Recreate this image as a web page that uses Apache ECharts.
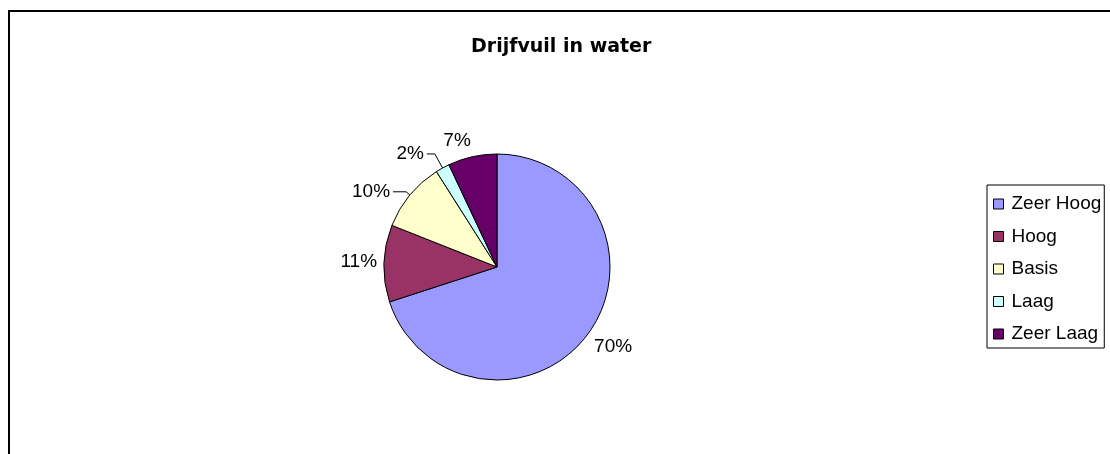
<!DOCTYPE html>
<html>
<head>
<meta charset="utf-8">
<script src="https://cdn.jsdelivr.net/npm/echarts@6/dist/echarts.min.js"></script>
<style>
  html, body { margin: 0; padding: 0; background: #fff; }
  #chart { width: 1110px; height: 454px; }
</style>
</head>
<body>
<div id="chart"></div>
<script>
var categories = ['Zeer Hoog', 'Hoog', 'Basis', 'Laag', 'Zeer Laag'];
var values = [70, 11, 10, 2, 7];

var colors = ['#9999ff', '#993366', '#ffffcc', '#ccffff', '#660066'];
// kleine stukken krijgen een verbindingslijntje, zoals in Excel
var withLine = [false, false, true, true, false];
var lineLen = [0, 0, 5, 16, 0];
var lineLen2 = [0, 0, 13, 8, 0];

var cx = 497, cy = 267, radius = 113;
var fontName = 'Liberation Sans, Arial, sans-serif';

function pieData() {
  var data = [];
  for (var i = 0; i < values.length; i++) {
    data.push({
      name: categories[i],
      value: values[i],
      itemStyle: { color: colors[i] },
      labelLine: { show: withLine[i], length: lineLen[i], length2: lineLen2[i] }
    });
  }
  return data;
}

function clamp(v) {
  return Math.max(-1, Math.min(1, v));
}

// labels zonder lijntje: dichtstbijzijnde hoek van het label op de middellijn van het stuk
function outsideLabel(params) {
  var i = params.dataIndex;
  if (withLine[i]) return;
  var total = 0, before = 0;
  for (var k = 0; k < values.length; k++) {
    total += values[k];
    if (k < i) before += values[k];
  }
  var a = (before + values[i] / 2) / total * Math.PI * 2;
  var dx = Math.sin(a), dy = -Math.cos(a);
  var hw = params.labelRect.width / 2, hh = params.labelRect.height / 2;
  var d = radius + 7;
  return {
    x: cx + d * dx + hw * clamp(dx / 0.2),
    y: cy + d * dy + hh * clamp(dy / 0.2),
    align: 'center',
    verticalAlign: 'middle'
  };
}

var chart = echarts.init(document.getElementById('chart'));
chart.setOption({
  animation: false,
  backgroundColor: '#fff',
  title: {
    text: 'Drijfvuil in water',
    left: 471,
    top: 38,
    padding: 0,
    textStyle: { fontFamily: 'DejaVu Sans', fontWeight: 'bold', fontSize: 19, color: '#000' }
  },
  legend: {
    orient: 'vertical',
    left: 987,
    top: 185,
    padding: [9.5, 3, 4.5, 6],
    itemGap: 13.5,
    itemWidth: 10,
    itemHeight: 10,
    icon: 'rect',
    backgroundColor: '#fff',
    borderColor: '#000',
    borderWidth: 1,
    borderRadius: 0,
    itemStyle: { borderColor: '#000', borderWidth: 1 },
    textStyle: { fontFamily: fontName, fontSize: 19, color: '#000', padding: [0, 0, 0, 3] },
    data: categories
  },
  graphic: [{
    type: 'rect',
    shape: { x: 9, y: 11, width: 1200, height: 600 },
    style: { fill: null, stroke: '#000', lineWidth: 2 },
    silent: true
  }],
  series: [{
    type: 'pie',
    center: [cx, cy],
    radius: radius,
    startAngle: 90,
    clockwise: true,
    avoidLabelOverlap: false,
    itemStyle: { borderColor: '#000', borderWidth: 1 },
    label: {
      position: 'outside',
      formatter: '{c}%',
      fontFamily: fontName,
      fontSize: 19,
      color: '#000',
      distanceToLabelLine: 3
    },
    labelLine: { lineStyle: { color: '#000', width: 1 }, smooth: false },
    labelLayout: outsideLabel,
    emphasis: { disabled: true },
    data: pieData()
  }]
});

window.addEventListener('resize', function () { chart.resize(); });
</script>
</body>
</html>
